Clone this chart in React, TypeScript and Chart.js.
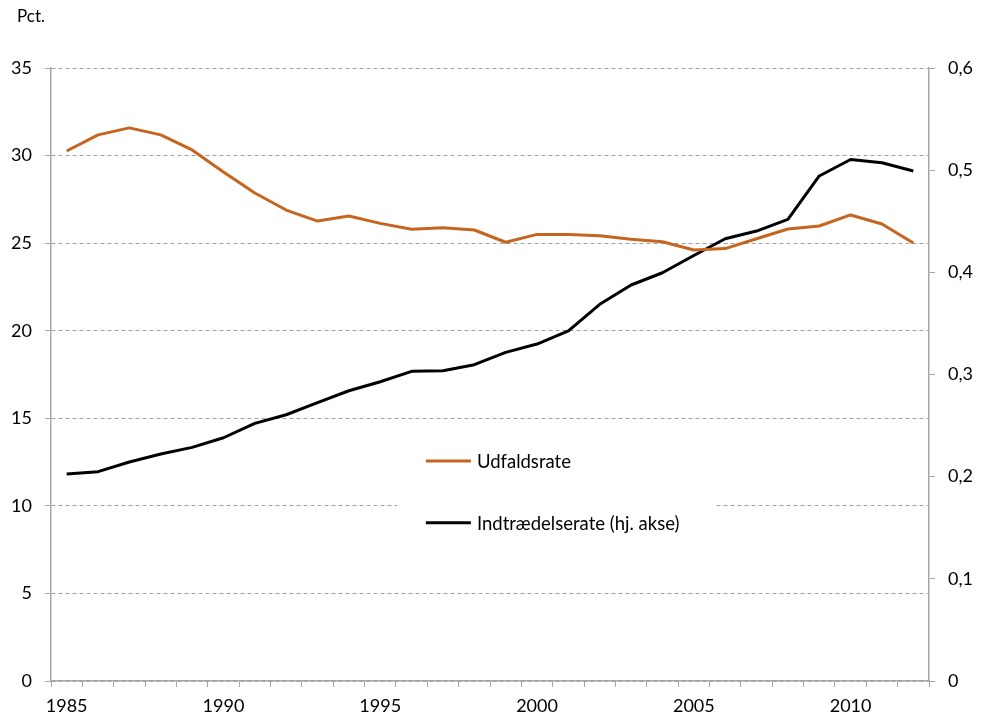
import React, { useEffect, useRef } from 'react';
import { Chart, registerables } from 'chart.js';

Chart.register(...registerables);

const years = [
  '1985', '1986', '1987', '1988', '1989', '1990', '1991', '1992', '1993', '1994',
  '1995', '1996', '1997', '1998', '1999', '2000', '2001', '2002', '2003', '2004',
  '2005', '2006', '2007', '2008', '2009', '2010', '2011', '2012',
];

const udfaldsrate = [
  30.26, 31.18, 31.58, 31.18, 30.32, 29.06, 27.86, 26.89, 26.26, 26.55,
  26.13, 25.79, 25.88, 25.75, 25.05, 25.5, 25.5, 25.42, 25.22, 25.08,
  24.61, 24.69, 25.25, 25.81, 25.98, 26.61, 26.09, 25.01,
];

const indtraedelserate = [
  0.2026, 0.2049, 0.2144, 0.2222, 0.2287, 0.2381, 0.2522, 0.2606, 0.2724, 0.2841,
  0.2929, 0.3031, 0.3037, 0.3096, 0.3217, 0.3298, 0.3426, 0.3687, 0.3876, 0.3996,
  0.4165, 0.4329, 0.4404, 0.4519, 0.4943, 0.5104, 0.5073, 0.4992,
];

const seriesLabels = ['Udfaldsrate', 'Indtrædelserate (hj. akse)'];
const unitLabel = 'Pct.';
const labelEvery = 5;

const ORANGE = '#C5651F';
const BLACK = '#000000';
const GRID = '#A0A0A0';
const AXIS = '#A6A6A6';
const FONT = 'Lato, "Open Sans", sans-serif';

const overlayPlugin = {
  id: 'overlay',
  afterDraw(chart: any) {
    const { ctx, chartArea } = chart;
    ctx.save();
    // unit label
    ctx.fillStyle = '#000';
    ctx.font = `17px ${FONT}`;
    ctx.textAlign = 'left';
    ctx.textBaseline = 'alphabetic';
    ctx.fillText(unitLabel, 17, 22);

    // legend box inside chart area
    const w = chartArea.right - chartArea.left;
    const h = chartArea.bottom - chartArea.top;
    const bx = chartArea.left + w * 0.394;
    const bx2 = chartArea.left + w * 0.757;
    const by = chartArea.top + h * 0.59;
    const by2 = chartArea.top + h * 0.79;
    ctx.fillStyle = '#ffffff';
    ctx.fillRect(bx, by, bx2 - bx, by2 - by);

    const lx = chartArea.left + w * 0.427;
    const items = [
      { text: seriesLabels[0], color: ORANGE, y: chartArea.top + h * 0.641 },
      { text: seriesLabels[1], color: BLACK, y: chartArea.top + h * 0.742 },
    ];
    ctx.font = `18.5px ${FONT}`;
    ctx.textBaseline = 'middle';
    items.forEach((it) => {
      ctx.strokeStyle = it.color;
      ctx.lineWidth = 3;
      ctx.beginPath();
      ctx.moveTo(lx, it.y);
      ctx.lineTo(lx + 45, it.y);
      ctx.stroke();
      ctx.fillStyle = '#000';
      ctx.fillText(it.text, lx + 51, it.y + 1);
    });
    ctx.restore();
  },
};

export default function App() {
  const canvasRef = useRef<HTMLCanvasElement | null>(null);

  useEffect(() => {
    const canvas = canvasRef.current;
    if (!canvas) return;
    const chart = new Chart(canvas, {
      type: 'line',
      data: {
        labels: years,
        datasets: [
          {
            label: seriesLabels[0],
            data: udfaldsrate,
            borderColor: ORANGE,
            backgroundColor: ORANGE,
            borderWidth: 3,
            pointRadius: 0,
            tension: 0,
            yAxisID: 'y',
            borderJoinStyle: 'round',
          },
          {
            label: seriesLabels[1],
            data: indtraedelserate,
            borderColor: BLACK,
            backgroundColor: BLACK,
            borderWidth: 3,
            pointRadius: 0,
            tension: 0,
            yAxisID: 'y1',
            borderJoinStyle: 'round',
          },
        ],
      },
      options: {
        responsive: false,
        animation: false,
        layout: { padding: { top: 68, bottom: 0, left: 0, right: 0 } },
        plugins: {
          legend: { display: false },
          tooltip: { enabled: false },
          title: { display: false },
        },
        scales: {
          x: {
            type: 'category',
            offset: true,
            grid: {
              offset: true,
              drawOnChartArea: false,
              drawTicks: true,
              tickLength: 6,
              tickColor: AXIS,
              color: AXIS,
              lineWidth: 1,
            },
            border: { display: true, color: AXIS, width: 1.5 },
            ticks: {
              autoSkip: false,
              maxRotation: 0,
              minRotation: 0,
              padding: 8,
              color: '#000',
              font: { family: FONT, size: 18 },
              callback: function (this: any, value: any, index: number) {
                const lab = years[index];
                return Number(lab) % labelEvery === 0 ? lab : '';
              },
            },
            afterFit(scale: any) {
              scale.height = 41;
            },
          },
          y: {
            type: 'linear',
            position: 'left',
            min: 0,
            max: 35,
            ticks: {
              stepSize: 5,
              padding: 13,
              color: '#000',
              font: { family: FONT, size: 18 },
            },
            grid: {
              color: GRID,
              lineWidth: 1,
              drawTicks: true,
              tickLength: 6,
              tickColor: AXIS,
              tickBorderDash: [],
            },
            border: { display: true, color: AXIS, width: 1.5, dash: [4, 3] },
            afterFit(scale: any) {
              scale.width = 51;
            },
          },
          y1: {
            type: 'linear',
            position: 'right',
            min: 0,
            max: 0.6,
            ticks: {
              stepSize: 0.1,
              padding: 13,
              color: '#000',
              font: { family: FONT, size: 18 },
              callback: (v: any) => {
                const n = Number(v);
                if (n === 0) return '0';
                return n.toFixed(1).replace('.', ',');
              },
            },
            grid: {
              drawOnChartArea: false,
              drawTicks: true,
              tickLength: 6,
              tickColor: AXIS,
              color: AXIS,
            },
            border: { display: true, color: AXIS, width: 1.5 },
            afterFit(scale: any) {
              scale.width = 56;
            },
          },
        },
      },
      plugins: [overlayPlugin],
    });
    return () => chart.destroy();
  }, []);

  return (
    <div style={{ position: 'fixed', left: 0, top: 0, width: 985, height: 722, background: '#fff' }}>
      <canvas ref={canvasRef} width={985} height={722} style={{ width: 985, height: 722, display: 'block' }} />
    </div>
  );
}
